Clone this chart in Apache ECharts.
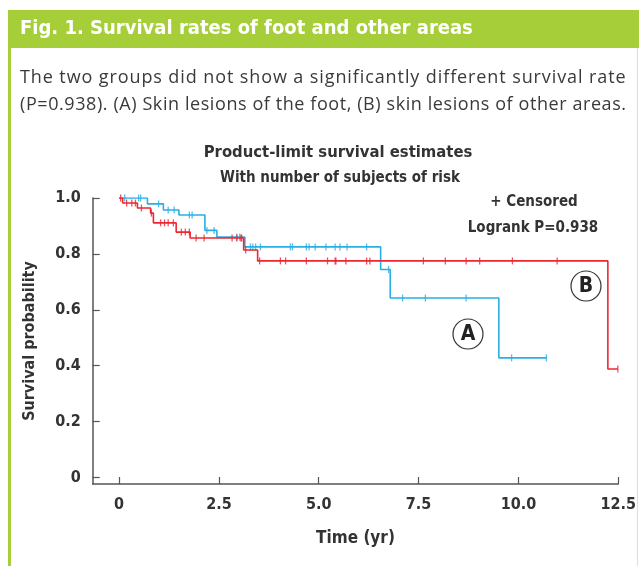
<!DOCTYPE html>
<html>
<head>
<meta charset="utf-8">
<script src="https://cdn.jsdelivr.net/npm/echarts@6/dist/echarts.min.js"></script>
<style>
  html, body { margin: 0; padding: 0; background: #fff; }
  #wrap { position: relative; width: 639px; height: 566px; }
  #chart { width: 639px; height: 566px; }
  .caption { position: absolute; left: 20px; top: 63px; font-family: "Open Sans", Roboto, sans-serif;
    font-size: 18px; line-height: 27px; color: #3a3a3a; white-space: nowrap; pointer-events: none; }
  .caption div:first-child { letter-spacing: 0.9px; }
  .caption div:last-child { letter-spacing: 0.58px; }
</style>
</head>
<body>
<div id="wrap">
  <div id="chart"></div>
  <div class="caption">
    <div>The two groups did not show a significantly different survival rate</div>
    <div>(P=0.938). (A) Skin lesions of the foot, (B) skin lesions of other areas.</div>
  </div>
</div>
<script>
// (A) foot: step curve
const blueTimes = [0, 0.71, 1.11, 1.50, 2.15, 2.45, 3.15, 6.55, 6.79, 9.51];
const blueSurv = [1.000, 0.979, 0.957, 0.939, 0.884, 0.860, 0.825, 0.744, 0.642, 0.428];
const blueLast = 10.70;
const blueCensor = [0.14, 0.49, 0.54, 0.99, 1.23, 1.38, 1.76, 1.83, 2.20, 2.38, 2.95, 3.02, 3.29, 3.35, 3.42, 3.54,
  4.29, 4.34, 4.69, 4.76, 4.91, 5.18, 5.41, 5.53, 5.71, 6.20, 6.75, 7.10, 7.67, 8.69, 9.83, 10.70];

// (B) other areas
const redTimes = [0, 0.09, 0.46, 0.79, 0.86, 1.43, 1.78, 3.12, 3.47, 12.24];
const redSurv = [1.000, 0.982, 0.964, 0.946, 0.911, 0.878, 0.857, 0.814, 0.775, 0.388];
const redLast = 12.49;
const redCensor = [0.04, 0.19, 0.32, 0.41, 0.56, 0.81, 1.04, 1.14, 1.23, 1.36, 1.56, 1.66, 1.76, 1.93, 2.13,
  2.83, 2.95, 3.05, 3.07, 3.17, 3.52, 4.04, 4.17, 4.69, 5.22, 5.41, 5.43, 5.68, 6.20, 6.28, 7.62, 8.17,
  8.69, 9.03, 9.85, 10.97, 12.49];

const xTicks = [0, 2.5, 5, 7.5, 10, 12.5];
const yTicks = [0, 0.2, 0.4, 0.6, 0.8, 1.0];

const BLUE = '#29aee6';
const RED = '#ec2731';
const GREEN = '#a6ce39';
const FONT = '"Liberation Sans Narrow", "DejaVu Sans Condensed", "Roboto", sans-serif';

function survAt(times, surv, t) {
  let s = surv[0];
  for (let i = 0; i < times.length; i++) {
    if (times[i] <= t) s = surv[i];
  }
  return s;
}
function stepData(times, surv, last) {
  const d = times.map((t, i) => [t, surv[i]]);
  d.push([last, surv[surv.length - 1]]);
  return d;
}
function censorData(times, surv, cens) {
  return cens.map(t => [t, survAt(times, surv, t)]);
}

const chart = echarts.init(document.getElementById('chart'));
const txt = (x, y, text, size, weight, align, color) => ({
  type: 'text', x: x, y: y, silent: true,
  style: { text: text, fontSize: size, fontWeight: weight, fontFamily: FONT,
    fill: color || '#333', align: align || 'left', verticalAlign: 'middle' }
});
const circ = (cx, cy, letter) => ([
  { type: 'circle', shape: { cx: cx, cy: cy, r: 15 }, style: { fill: '#fff', stroke: '#333', lineWidth: 1.2 }, z: 10 },
  Object.assign(txt(cx, cy + 1, letter, 21, 'bold', 'center', '#222'), { z: 11 })
]);

chart.setOption({
  animation: false,
  grid: { left: 92.7, right: 15.5, top: 198, bottom: 82 },
  xAxis: {
    type: 'value', min: -0.66, max: 12.5,
    splitLine: { show: false },
    axisLine: { onZero: false, lineStyle: { color: '#555', width: 1.5 } },
    axisTick: { inside: true, length: 7, customValues: xTicks, lineStyle: { color: '#555', width: 1.2 } },
    axisLabel: { customValues: xTicks, margin: 13, color: '#333', fontSize: 16, fontWeight: 'bold', fontFamily: FONT,
      formatter: v => v === 0 ? '0' : v.toFixed(1) },
    name: 'Time (yr)', nameLocation: 'middle', nameGap: 46,
    nameTextStyle: { color: '#333', fontSize: 17, fontWeight: 'bold', fontFamily: FONT }
  },
  yAxis: {
    type: 'value', min: -0.0233, max: 1.0,
    splitLine: { show: false },
    axisLine: { onZero: false, lineStyle: { color: '#555', width: 1.5 } },
    axisTick: { inside: true, length: 7, customValues: yTicks, lineStyle: { color: '#555', width: 1.2 } },
    axisLabel: { customValues: yTicks, margin: 12, color: '#333', fontSize: 16, fontWeight: 'bold', fontFamily: FONT,
      formatter: v => v === 0 ? '0' : v.toFixed(1) },
    name: 'Survival probability', nameLocation: 'middle', nameGap: 55,
    nameTextStyle: { color: '#333', fontSize: 16, fontWeight: 'bold', fontFamily: FONT }
  },
  series: [
    { name: 'A', type: 'line', step: 'end', showSymbol: false, data: stepData(blueTimes, blueSurv, blueLast),
      lineStyle: { color: BLUE, width: 1.6 }, z: 3 },
    { name: 'B', type: 'line', step: 'end', showSymbol: false, data: stepData(redTimes, redSurv, redLast),
      lineStyle: { color: RED, width: 1.6 }, z: 4 },
    { name: 'A censored', type: 'scatter', data: censorData(blueTimes, blueSurv, blueCensor),
      symbol: 'rect', symbolSize: [1.3, 7], itemStyle: { color: BLUE }, z: 3 },
    { name: 'B censored', type: 'scatter', data: censorData(redTimes, redSurv, redCensor),
      symbol: 'rect', symbolSize: [1.3, 7], itemStyle: { color: RED }, z: 4 }
  ],
  graphic: [
    { type: 'rect', shape: { x: 8, y: 10, width: 631, height: 38 }, style: { fill: GREEN }, silent: true },
    { type: 'rect', shape: { x: 8, y: 48, width: 3, height: 518 }, style: { fill: GREEN }, silent: true },
    { type: 'rect', shape: { x: 637, y: 48, width: 1, height: 518 }, style: { fill: '#d9eab0' }, silent: true },
    txt(20, 29, 'Fig. 1. Survival rates of foot and other areas', 20, 'bold', 'left', '#fff'),
    txt(338, 153, 'Product-limit survival estimates', 16.5, 'bold', 'center'),
    txt(340, 178, 'With number of subjects of risk', 15, 'bold', 'center'),
    txt(534, 202, '+ Censored', 15, 'bold', 'center'),
    txt(533, 228, 'Logrank P=0.938', 15, 'bold', 'center'),
    ...circ(468, 334, 'A'),
    ...circ(586, 286, 'B')
  ]
});
</script>
</body>
</html>
